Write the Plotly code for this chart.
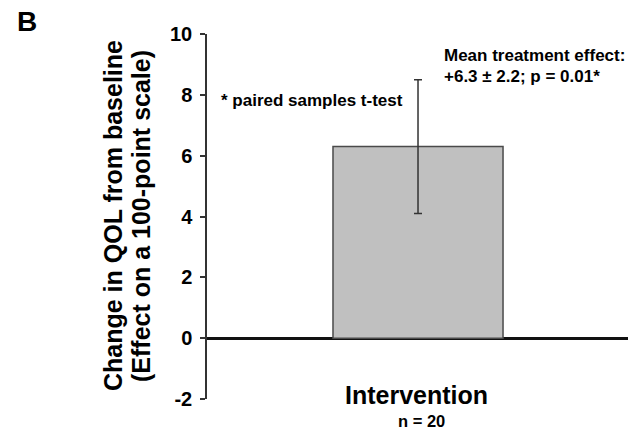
import plotly.graph_objects as go

categories = ["Intervention"]
means = [6.3]
err_plus = [2.2]
err_minus = [2.2]
y_ticks = [-2, 0, 2, 4, 6, 8, 10]
n_label = "n = 20"

FONT = "Liberation Sans, Arial, sans-serif"
W, H = 628, 430
ML, MR, MT, MB = 207, 0, 34, 31
PW, PH = W - ML - MR, H - MT - MB

fig = go.Figure()
fig.add_trace(go.Bar(
    x=[0], y=means, width=[1.0],
    marker=dict(color="#c0c0c0", line=dict(color="#4a4a4a", width=1.5)),
    error_y=dict(type="data", symmetric=False, array=err_plus, arrayminus=err_minus,
                 color="#333333", thickness=1.5, width=4),
    showlegend=False,
))

fig.update_layout(
    width=W, height=H,
    margin=dict(l=ML, r=MR, t=MT, b=MB),
    paper_bgcolor="white", plot_bgcolor="white",
    font=dict(family=FONT, color="black"),
    xaxis=dict(range=[-1.241, 1.235], showline=False, showgrid=False, zeroline=False,
               showticklabels=False, ticks=""),
    yaxis=dict(range=[-2, 10], tickvals=y_ticks, ticktext=[f"<b>{v}</b>" for v in y_ticks],
               showline=True, linecolor="#333333", linewidth=1.5,
               ticks="outside", ticklen=5, tickcolor="#333333", tickwidth=1.5,
               tickfont=dict(size=20, family=FONT, color="black"), ticklabelstandoff=4,
               showgrid=False, zeroline=True, zerolinecolor="#111111", zerolinewidth=2.5),
)

def ann(text, px, py, size, xanchor="center", angle=0):
    fig.add_annotation(text=text, x=(px - ML) / PW, y=(H - MB - py) / PH,
                       xref="paper", yref="paper", xanchor=xanchor, yanchor="middle",
                       showarrow=False, textangle=angle, font=dict(size=size, family=FONT, color="black"))

ann("<b>B</b>", 15, 22, 28, xanchor="left")
ann("<b>Change in QOL from baseline</b>", 113, 216, 25, angle=-90)
ann("<b>(Effect on a 100-point scale)</b>", 141, 216, 25, angle=-90)
ann("<b>* paired samples t-test</b>", 219, 100, 17, xanchor="left")
ann("<b>Mean treatment effect:</b>", 442, 55, 17, xanchor="left")
ann("<b>+6.3 ± 2.2; p = 0.01*</b>", 442, 77, 17, xanchor="left")
ann(f"<b>{categories[0]}</b>", 416, 395, 25)
ann(f"<b>{n_label}</b>", 421, 421, 16.5)

fig.write_html("out.html")
